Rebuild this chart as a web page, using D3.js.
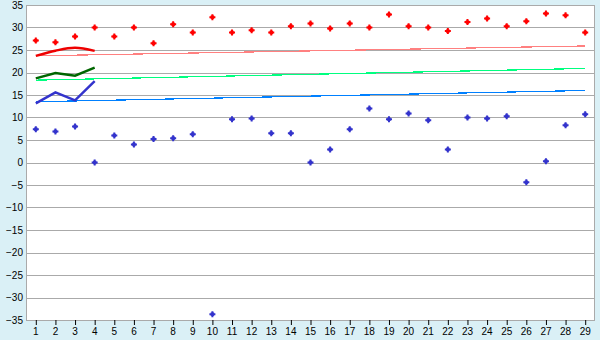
<!DOCTYPE html>
<html>
<head>
<meta charset="utf-8">
<script src="https://d3js.org/d3.v7.min.js"></script>
<style>
  body { margin: 0; background: #daf0f6; }
  svg { display: block; font-family: "DejaVu Sans", Verdana, sans-serif; font-size: 11px; }
  .grid line { stroke: #aaaaaa; shape-rendering: crispEdges; }
  .trend { fill: none; stroke-width: 1.2; shape-rendering: crispEdges; }
  .thick { fill: none; stroke-width: 2.5; }
</style>
</head>
<body>
<svg id="chart"></svg>
<script>
// categories 1..29
var days = d3.range(1, 30);
var yTicks = d3.range(-35, 36, 5);

// scatter series
var redPoints = [27.1, 26.7, 28.0, 30.0, 28.0, 30.0, 26.5, 30.7, 28.9, 32.3,
                 28.9, 29.4, 28.9, 30.3, 30.9, 29.8, 30.9, 30.0, 32.9, 30.3,
                 30.0, 29.2, 31.2, 32.0, 30.3, 31.4, 33.1, 32.7, 28.9];
var bluePoints = [7.4, 6.9, 8.0, 0.0, 6.0, 4.0, 5.2, 5.4, 6.3, -33.7,
                  9.6, 9.8, 6.5, 6.5, 0.0, 2.9, 7.4, 12.0, 9.6, 10.9,
                  9.4, 2.9, 10.0, 9.8, 10.3, -4.4, 0.3, 8.3, 10.7];

// thick short series (days 1-4)
var redLine = [23.7, 24.85, 25.5, 24.8];
var greenLine = [18.7, 19.9, 19.3, 21.1];
var blueLine = [13.15, 15.6, 13.8, 18.1];

// trend lines: value at day 1 and day 29
var redTrend = [23.7, 25.9];
var greenTrend = [18.3, 20.9];
var blueTrend = [13.5, 16.0];

var W = 600, H = 340;
var m = {top: 5, right: 5, bottom: 20, left: 26};
var w = W - m.left - m.right, h = H - m.top - m.bottom;

var svg = d3.select('#chart').attr('width', W).attr('height', H);
var g = svg.append('g').attr('transform', 'translate(' + m.left + ',' + m.top + ')');

var x = d3.scaleBand().domain(days).range([0, w]);
var cx = function(d) { return x(d) + x.bandwidth() / 2; };
var y = d3.scaleLinear().domain([-35, 35]).range([h, 0]);

g.append('rect').attr('width', w).attr('height', h).attr('fill', '#ffffff');

// grid
g.append('g').attr('class', 'grid')
  .selectAll('line').data(yTicks).enter().append('line')
  .attr('x1', 0).attr('x2', w)
  .attr('y1', function(d) { return Math.round(y(d)) + 0.5; })
  .attr('y2', function(d) { return Math.round(y(d)) + 0.5; });

g.append('line').attr('x1', 0.5).attr('x2', 0.5).attr('y1', 0).attr('y2', h)
  .attr('stroke', '#aaaaaa');
g.append('line').attr('x1', w - 0.5).attr('x2', w - 0.5).attr('y1', 0).attr('y2', h)
  .attr('stroke', '#aaaaaa');

// y axis labels
var yAxis = d3.axisLeft(y).tickValues(yTicks).tickSize(0).tickPadding(3);
var ya = g.append('g').call(yAxis);
ya.select('.domain').remove();
ya.selectAll('text').attr('font-family', null).attr('font-size', null).attr('fill', '#000');

// x axis
var xAxis = d3.axisBottom(x).tickSize(5).tickPadding(3);
var xa = g.append('g').attr('transform', 'translate(0,' + h + ')').call(xAxis);
xa.select('.domain').remove();
xa.selectAll('line').attr('stroke', '#000').attr('transform', 'translate(0.5,0)');
xa.selectAll('text').attr('font-family', null).attr('font-size', null).attr('fill', '#000');

// trend lines
function trend(vals, color) {
  g.append('line').attr('class', 'trend')
    .attr('x1', cx(days[0])).attr('x2', cx(days[days.length - 1]))
    .attr('y1', y(vals[0])).attr('y2', y(vals[1]))
    .attr('stroke', color);
}
trend(redTrend, '#ff8080');
trend(greenTrend, '#00ff80');
trend(blueTrend, '#0080ff');

// thick lines
function thick(vals, color, curve) {
  var line = d3.line()
    .x(function(d, i) { return cx(days[i]); })
    .y(function(d) { return y(d); })
    .curve(curve);
  g.append('path').datum(vals).attr('class', 'thick')
    .attr('d', line).attr('stroke', color);
}
thick(redLine, '#ee0000', d3.curveCardinal);
thick(greenLine, '#006600', d3.curveLinear);
thick(blueLine, '#3333cc', d3.curveLinear);

// markers: small plus with a filled diamond centre
var cross = d3.symbol().type(d3.symbolCross).size(20);
var diamond = d3.symbol().type(d3.symbolSquare).size(12);
function points(vals, color) {
  var p = g.append('g').selectAll('g').data(vals).enter().append('g')
    .attr('transform', function(d, i) { return 'translate(' + cx(days[i]) + ',' + y(d) + ')'; })
    .attr('fill', color);
  p.append('path').attr('d', cross);
  p.append('path').attr('d', diamond);
}
points(redPoints, '#ff0000');
points(bluePoints, '#3333cc');
</script>
</body>
</html>
